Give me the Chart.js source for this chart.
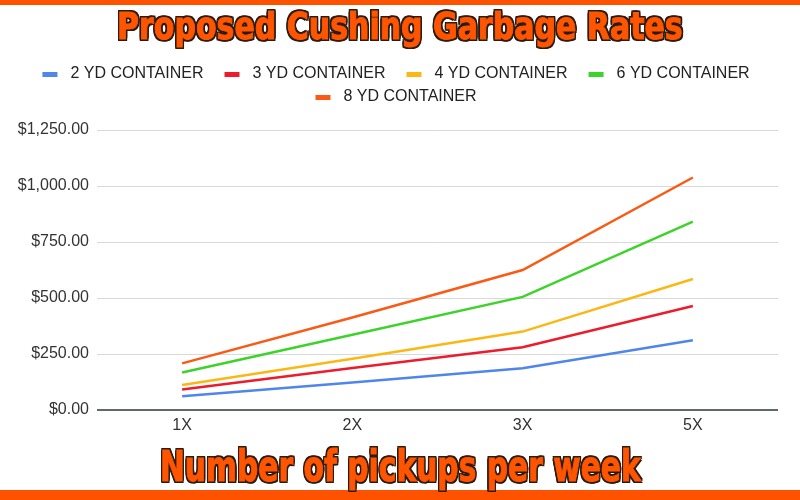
<!DOCTYPE html>
<html>
<head>
<meta charset="utf-8">
<script src="https://cdn.jsdelivr.net/npm/chart.js@4"></script>
<style>
  html, body { margin: 0; padding: 0; background: #ffffff; }
  #wrap { position: relative; width: 800px; height: 500px; overflow: hidden; background: #fff; }
  #c { position: absolute; left: 0; top: 0; }
  .bar { position: absolute; left: 0; width: 800px; background: #ff5200; }
  .ttl { position: absolute; left: 0; width: 800px; text-align: center; white-space: nowrap; line-height: 1; }
  .ttl span {
    display: inline-block;
    font-family: Impact, "Liberation Sans Narrow", "DejaVu Sans Condensed", "Liberation Sans", sans-serif;
    font-weight: bold;
    color: #ff5500;
    -webkit-text-stroke: 1px #ff5500;
    text-shadow: -2px -2px 0 #2a1c12, 2px -2px 0 #2a1c12, -2px 2px 0 #2a1c12, 2px 2px 0 #2a1c12,
                 0 -2px 0 #2a1c12, 0 2px 0 #2a1c12, -2px 0 0 #2a1c12, 2px 0 0 #2a1c12,
                 -1px -2px 0 #2a1c12, 1px 2px 0 #2a1c12, -2px 1px 0 #2a1c12, 2px -1px 0 #2a1c12;
    transform-origin: 50% 50%;
  }
</style>
</head>
<body>
<div id="wrap">
  <canvas id="c" width="800" height="500"></canvas>
  <div class="bar" style="top:0;height:5px;"></div>
  <div class="bar" style="top:490px;height:10px;"></div>
  <div class="ttl" id="t1" style="top:8px;"><span style="font-size:37.5px;">Proposed Cushing Garbage Rates</span></div>
  <div class="ttl" id="t2" style="top:446px;"><span style="font-size:42px;">Number of pickups per week</span></div>
</div>
<script>
// ---- data ----
const categories = ['1X', '2X', '3X', '5X'];
const seriesNames = ['2 YD CONTAINER', '3 YD CONTAINER', '4 YD CONTAINER', '6 YD CONTAINER', '8 YD CONTAINER'];
const yd2 = [61, 123, 186, 311];
const yd3 = [92, 188, 280, 464];
const yd4 = [112, 229, 350, 585];
const yd6 = [167, 336, 505, 841];
const yd8 = [208, 413, 625, 1038];
const yTickValues = [0, 250, 500, 750, 1000, 1250];

const seriesColors = ['#4f86ec', '#ec1c2c', '#fbb814', '#3ed32a', '#fa5a14'];
const seriesData = [yd2, yd3, yd4, yd6, yd8];

function fmtMoney(v) {
  return '$' + v.toLocaleString('en-US', { minimumFractionDigits: 2, maximumFractionDigits: 2 });
}

function makeSwatch(color) {
  const cv = document.createElement('canvas');
  cv.width = 34; cv.height = 5;
  const g = cv.getContext('2d');
  g.fillStyle = color;
  g.fillRect(14, 0, 15, 5);
  return cv;
}
const swatches = seriesColors.map(makeSwatch);

const legendSpacer = {
  id: 'legendSpacer',
  beforeUpdate(chart) {
    const lg = chart.legend;
    if (lg && !lg._patched) {
      const orig = lg.fit;
      lg.fit = function () { orig.call(this); this.height += 15; };
      lg._patched = true;
    }
  }
};

const chart = new Chart(document.getElementById('c'), {
  type: 'line',
  data: {
    labels: categories,
    datasets: seriesNames.map((name, i) => ({
      label: name,
      data: seriesData[i],
      borderColor: seriesColors[i],
      backgroundColor: seriesColors[i],
      borderWidth: 2.5,
      pointRadius: 0,
      pointHoverRadius: 0,
      tension: 0,
      fill: false
    }))
  },
  options: {
    responsive: false,
    animation: false,
    layout: { padding: { top: 59, left: 0, right: 22, bottom: 65 } },
    plugins: {
      tooltip: { enabled: false },
      title: { display: false },
      legend: {
        display: true,
        position: 'top',
        align: 'center',
        labels: {
          usePointStyle: true,
          pointStyleWidth: 34,
          padding: 7,
          color: '#222222',
          font: { family: '"Liberation Sans", Arial, sans-serif', size: 16 },
          generateLabels(ch) {
            const items = Chart.defaults.plugins.legend.labels.generateLabels(ch);
            items.forEach((it) => { it.pointStyle = swatches[it.datasetIndex]; });
            return items;
          }
        }
      }
    },
    scales: {
      x: {
        offset: true,
        grid: { display: false, drawTicks: false },
        border: { display: false },
        ticks: {
          color: '#333333',
          padding: 6,
          font: { family: '"Liberation Sans", Arial, sans-serif', size: 16 }
        },
        afterFit(scale) { scale.height = 25; }
      },
      y: {
        min: 0,
        max: 1250,
        border: { display: false },
        grid: {
          drawTicks: false,
          color: (ctx) => (ctx.tick && ctx.tick.value === 0) ? '#5f6968' : '#d9d9d9',
          lineWidth: (ctx) => (ctx.tick && ctx.tick.value === 0) ? 2 : 1
        },
        afterBuildTicks(scale) { scale.ticks = yTickValues.map(v => ({ value: v })); },
        ticks: {
          color: '#333333',
          padding: 8,
          font: { family: '"Liberation Sans", Arial, sans-serif', size: 16 },
          callback: (v) => fmtMoney(v)
        },
        afterFit(scale) { scale.width = 97; }
      }
    }
  },
  plugins: [legendSpacer]
});

function fitTitle(id, targetW) {
  const sp = document.querySelector('#' + id + ' span');
  const w = sp.offsetWidth;
  if (w > 0) sp.style.transform = 'scaleX(' + (targetW / w) + ')';
}
fitTitle('t1', 566);
fitTitle('t2', 481);
</script>
</body>
</html>
